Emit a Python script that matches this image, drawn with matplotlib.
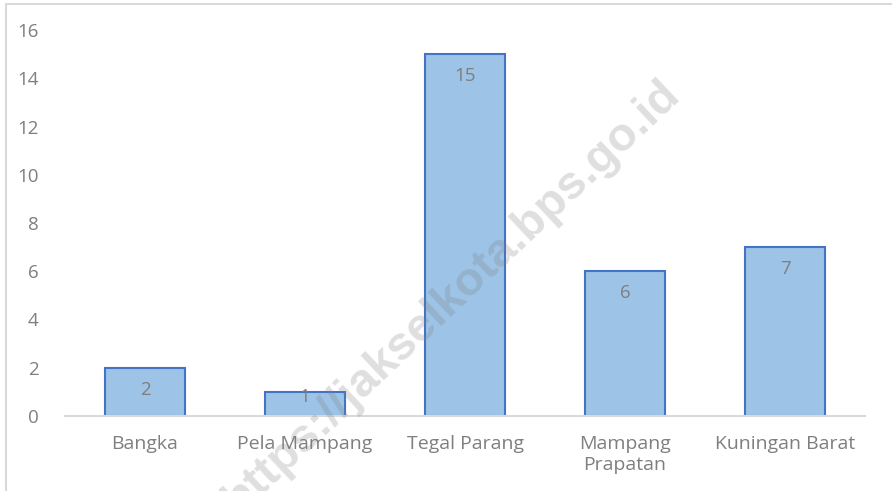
import numpy as np
import matplotlib
matplotlib.use("Agg")
import matplotlib.pyplot as plt
from matplotlib.patches import Rectangle

# -----------------------------------------------------------------

categories = ["Bangka", "Pela Mampang", "Tegal Parang", "Mampang\nPrapatan", "Kuningan Barat"]
values = [2, 1, 15, 6, 7]
y_ticks = [0, 2, 4, 6, 8, 10, 12, 14, 16]
watermark = "https://jakselkota.bps.go.id"

# -----------------------------------------------------------------

text_gray = "#7f7f7f"
W, H = 892, 491

plt.rcParams["font.family"] = ["Open Sans", "DejaVu Sans"]

fig = plt.figure(figsize=(W / 100, H / 100), dpi=100)
ax = fig.add_axes([65 / W, 1 - 416 / H, 800 / W, (416 - 30) / H])

x = np.arange(len(categories))
ax.bar(x, values, width=0.5, color="#9dc3e6", edgecolor="#4472c4", linewidth=1.5, zorder=2)

ax.set_xlim(-0.5, len(categories) - 0.5)
ax.set_ylim(0, 16)
ax.set_yticks(y_ticks)
ax.set_yticklabels([str(t) for t in y_ticks])
ax.set_xticks(x)
ax.set_xticklabels(categories, linespacing=1.2)

for side in ["top", "right", "left"]:
    ax.spines[side].set_visible(False)
ax.spines["bottom"].set_color("#d9d9d9")
ax.spines["bottom"].set_linewidth(1.5)

ax.tick_params(axis="y", length=0, labelsize=13.5, labelcolor=text_gray, pad=19)
ax.tick_params(axis="x", length=0, labelsize=14, labelcolor=text_gray, pad=14)

# data labels inside end of each bar
for xi, v in zip(x, values):
    off = min(0.92, v - 0.79)
    ax.text(xi, v - off, str(v), ha="center", va="center", fontsize=13.5, color=text_gray, zorder=3)

# chart frame
fig.patches.append(Rectangle((6 / W, -0.1), 1.1, 1 - 4 / H + 0.1, transform=fig.transFigure,
                             fill=False, edgecolor="#d9d9d9", linewidth=1.5))

# watermark
fig.text(452 / W, 1 - 297 / H, watermark, rotation=43.4, ha="center", va="center",
         fontsize=34, fontweight="bold", family="Liberation Sans",
         color="#808080", alpha=0.25, zorder=10, rotation_mode="anchor")

fig.savefig("out.png", dpi=100)
